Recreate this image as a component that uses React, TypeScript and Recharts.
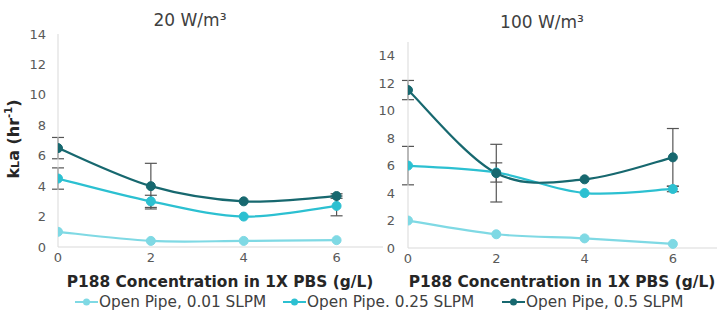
import { ErrorBar, Line, LineChart, XAxis, YAxis } from "recharts";

const concentrations = [0, 2, 4, 6];
const xTicks = [0, 2, 4, 6];
const leftTicks = [0, 2, 4, 6, 8, 10, 12, 14];
const rightTicks = [0, 2, 4, 6, 8, 10, 12, 14];

// 20 W/m3
const low20 = [1.0, 0.4, 0.4, 0.45];
const mid20 = [4.5, 3.0, 2.0, 2.7];
const high20 = [6.5, 4.0, 3.0, 3.35];
const midErr20 = [0.7, 0.4, null, 0.65];
const highErr20 = [0.7, 1.5, null, 0.15];

// 100 W/m3
const low100 = [2.0, 1.0, 0.7, 0.3];
const mid100 = [6.0, 5.5, 4.0, 4.3];
const high100 = [11.5, 5.45, 5.0, 6.6];
const midErr100 = [1.4, 0.7, null, 0.2];
const highErr100 = [0.7, 2.1, null, 2.1];

const seriesNames = ["Open Pipe, 0.01 SLPM", "Open Pipe. 0.25 SLPM", "Open Pipe, 0.5 SLPM"];
const colors = ["#7fd9e4", "#2cc0d1", "#17686f"];
const legendX = [75, 283, 502];

const FONT = "'DejaVu Sans', Verdana, sans-serif";
const tickStyle = { fill: "#595959", fontSize: 13, fontFamily: FONT };

// Excel-style smoothed line: cubic bezier through each point, tangents from neighbours
function smoothCurve(context: any) {
  let pts: number[][] = [];
  return {
    areaStart() {},
    areaEnd() {},
    lineStart() {
      pts = [];
    },
    point(x: number, y: number) {
      pts.push([+x, +y]);
    },
    lineEnd() {
      if (!pts.length) return;
      context.moveTo(pts[0][0], pts[0][1]);
      for (let i = 0; i < pts.length - 1; i++) {
        const p0 = pts[i - 1] || pts[i];
        const p1 = pts[i];
        const p2 = pts[i + 1];
        const p3 = pts[i + 2] || p2;
        context.bezierCurveTo(
          p1[0] + (p2[0] - p0[0]) / 6,
          p1[1] + (p2[1] - p0[1]) / 6,
          p2[0] - (p3[0] - p1[0]) / 6,
          p2[1] - (p3[1] - p1[1]) / 6,
          p2[0],
          p2[1]
        );
      }
    },
  };
}

function buildRows(low: number[], mid: number[], high: number[], midErr: (number | null)[], highErr: (number | null)[]) {
  return concentrations.map((x, i) => ({
    x,
    low: low[i],
    mid: mid[i],
    high: high[i],
    midErr: midErr[i],
    highErr: highErr[i],
  }));
}

const rows20 = buildRows(low20, mid20, high20, midErr20, highErr20);
const rows100 = buildRows(low100, mid100, high100, midErr100, highErr100);

function Panel({
  rows,
  width,
  height,
  top,
  plotH,
  yMax,
  yTicks,
  yWidth,
  tickMargin,
}: {
  rows: any[];
  width: number;
  height: number;
  top: number;
  plotH: number;
  yMax: number;
  yTicks: number[];
  yWidth: number;
  tickMargin: number;
}) {
  const keys = ["low", "mid", "high"];
  return (
    <LineChart width={width} height={height} data={rows} margin={{ top, right: 0, left: 0, bottom: 0 }}>
      <XAxis
        dataKey="x"
        type="number"
        domain={[0, 7]}
        ticks={xTicks}
        tickLine={false}
        tickSize={0}
        tickMargin={6}
        height={height - top - plotH}
        stroke="#d9d9d9"
        tick={tickStyle}
        allowDataOverflow
      />
      <YAxis
        type="number"
        domain={[0, yMax]}
        ticks={yTicks}
        width={yWidth}
        tickLine={false}
        tickSize={0}
        tickMargin={tickMargin}
        stroke="#d9d9d9"
        tick={tickStyle}
      />
      {keys.map((k, i) => (
        <Line
          key={k}
          dataKey={k}
          type={smoothCurve as any}
          stroke={colors[i]}
          strokeWidth={2.2}
          dot={{ r: 4.5, fill: colors[i], stroke: colors[i], strokeWidth: 1 }}
          isAnimationActive={false}
        >
          {k !== "low" && (
            <ErrorBar dataKey={`${k}Err`} direction="y" width={6} stroke="#555" strokeWidth={1.2} />
          )}
        </Line>
      ))}
    </LineChart>
  );
}

function LegendIcon({ color }: { color: string }) {
  return (
    <svg width={23} height={12} style={{ marginRight: 1 }}>
      <line x1={0} y1={6} x2={23} y2={6} stroke={color} strokeWidth={2} />
      <circle cx={11.5} cy={6} r={3.5} fill={color} />
    </svg>
  );
}

export default function App() {
  return (
    <div style={{ position: "relative", width: 717, height: 318, background: "#fff", fontFamily: FONT }}>
      <style>{`body{margin:0}`}</style>
      <div style={{ position: "absolute", left: 0, top: 0 }}>
        <Panel rows={rows20} width={383} height={270} top={34} plotH={213} yMax={14} yTicks={leftTicks} yWidth={58} tickMargin={12} />
      </div>
      <div style={{ position: "absolute", left: 350, top: 0 }}>
        <Panel rows={rows100} width={367} height={270} top={42} plotH={206} yMax={15} yTicks={rightTicks} yWidth={58} tickMargin={13} />
      </div>

      <div style={{ position: "absolute", left: 130, width: 120, top: 10, textAlign: "center", fontSize: 17, color: "#404040" }}>
        20 W/m³
      </div>
      <div style={{ position: "absolute", left: 482, width: 120, top: 12, textAlign: "center", fontSize: 17, color: "#404040" }}>
        100 W/m³
      </div>

      <div
        style={{
          position: "absolute",
          left: 13,
          top: 139,
          transform: "translate(-50%, -50%) rotate(-90deg)",
          whiteSpace: "nowrap",
          fontSize: 16,
          fontWeight: "bold",
          color: "#262626",
        }}
      >
        k<span style={{ fontSize: 11 }}>L</span>a (hr<sup style={{ fontSize: 10 }}>-1</sup>)
      </div>

      <div style={{ position: "absolute", left: 40, width: 360, top: 273, textAlign: "center", fontSize: 15.4, fontWeight: "bold", color: "#262626", whiteSpace: "nowrap" }}>
        P188 Concentration in 1X PBS (g/L)
      </div>
      <div style={{ position: "absolute", left: 382, width: 360, top: 273, textAlign: "center", fontSize: 15.4, fontWeight: "bold", color: "#262626", whiteSpace: "nowrap" }}>
        P188 Concentration in 1X PBS (g/L)
      </div>

      {seriesNames.map((name, i) => (
        <div
          key={name}
          style={{
            position: "absolute",
            left: legendX[i],
            top: 293,
            display: "flex",
            alignItems: "center",
            fontSize: 15.3,
            color: "#404040",
            whiteSpace: "nowrap",
          }}
        >
          <LegendIcon color={colors[i]} />
          <span>{name}</span>
        </div>
      ))}
    </div>
  );
}
